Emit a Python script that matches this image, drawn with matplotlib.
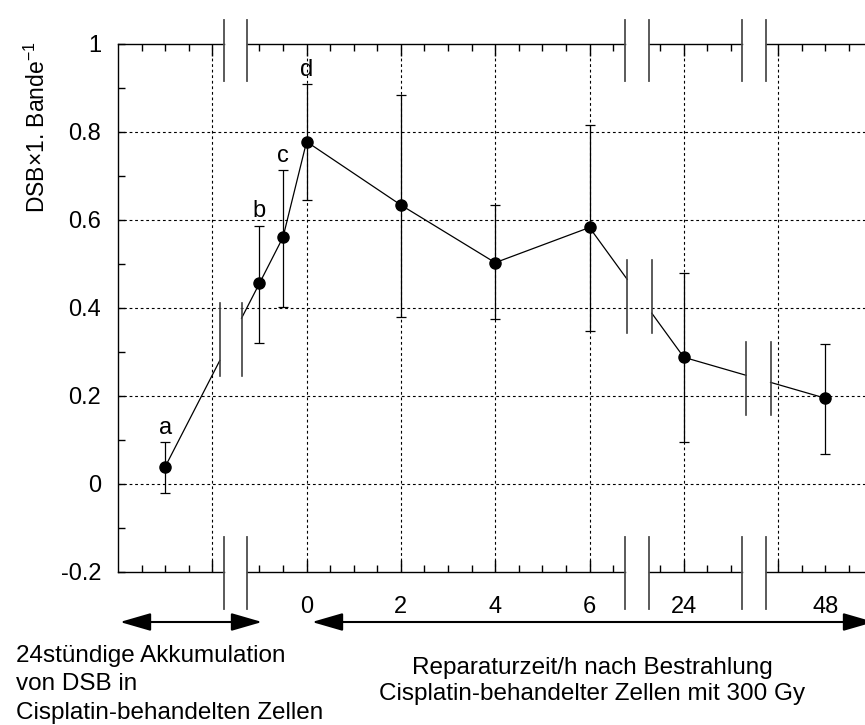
import numpy as np
import matplotlib.pyplot as plt
from matplotlib.patches import FancyArrowPatch

plt.rcParams['font.family'] = ['Liberation Sans', 'DejaVu Sans']
plt.rcParams['mathtext.default'] = 'regular'

# points in drawing order: a-d = accumulation, then repair after irradiation
point_pos = [-1.5, -0.5, -0.25, 0, 1, 2, 3, 4, 5.5]
dsb_mean = [0.039, 0.456, 0.561, 0.778, 0.634, 0.503, 0.583, 0.288, 0.195]
dsb_hi = [0.095, 0.587, 0.714, 0.909, 0.884, 0.634, 0.816, 0.479, 0.318]
dsb_lo = [-0.020, 0.321, 0.403, 0.645, 0.380, 0.374, 0.348, 0.095, 0.068]
point_labels = ['a', 'b', 'c', 'd']

# repair time axis (h) and where each label sits on the broken axis
hour_labels = ['0', '2', '4', '6', '24', '48']
hour_pos = [0, 1, 2, 3, 4, 5.5]

y_ticks = [-0.2, 0, 0.2, 0.4, 0.6, 0.8, 1.0]
y_ticklabels = ['-0.2', '0', '0.2', '0.4', '0.6', '0.8', '1']

# breaks in the axis and in the data line
spine_gaps = [(-0.876, -0.628), (3.38, 3.63), (4.62, 4.876)]
line_gaps = [(-0.92, -0.69), (3.40, 3.66), (4.66, 4.92)]

W, H = 865, 725
fig = plt.figure(figsize=(W / 100, H / 100), dpi=100)
ax = fig.add_axes([118 / W, (H - 572) / H, (W - 118) / W, 528 / H])
x_right = -2 + 747 / 94.3
ax.set_xlim(-2, x_right)
ax.set_ylim(-0.2, 1.0)

for s in ['top', 'bottom', 'right']:
    ax.spines[s].set_visible(False)
ax.spines['left'].set_linewidth(1.0)

# top and bottom axis lines with gaps
edges = [-2] + [v for g in spine_gaps for v in g] + [x_right]
for x0, x1 in zip(edges[::2], edges[1::2]):
    for yy in (1.0, -0.2):
        ax.plot([x0, x1], [yy, yy], color='k', lw=1.0, clip_on=False, zorder=5)
for g in spine_gaps:
    for gx in g:
        ax.plot([gx, gx], [1.0545, 0.916], color='0.3', lw=1.3, clip_on=False, zorder=5)
        ax.plot([gx, gx], [-0.1205, -0.284], color='0.3', lw=1.3, clip_on=False, zorder=5)

# grid
dash = (0, (2.5, 2.5))
for gx in range(-1, 6):
    ax.axvline(gx, color='k', lw=0.8, ls=dash, zorder=1)
for gy in [0, 0.2, 0.4, 0.6, 0.8]:
    ax.axhline(gy, color='k', lw=0.8, ls=dash, zorder=1)

# x ticks
major = list(range(-1, 6))
major_lab = [hour_labels[hour_pos.index(m)] if m in hour_pos else '' for m in major]
ax.set_xticks(major, major_lab)
minor = [q for q in np.arange(-1.75, 5.9, 0.25)
         if q % 1 != 0 and not any(g[0] < q < g[1] for g in spine_gaps)]
minor_lab = [hour_labels[hour_pos.index(q)] if q in hour_pos else '' for q in minor]
ax.set_xticks(minor, minor_lab, minor=True)
ax.tick_params(axis='x', which='both', direction='in', top=True, bottom=True,
               labelsize=17, pad=17, width=1.0)
ax.tick_params(axis='x', which='major', length=8.5)
ax.tick_params(axis='x', which='minor', length=4.7)

# y ticks
ax.set_yticks(y_ticks, y_ticklabels)
ax.set_yticks(np.arange(-0.1, 1.0, 0.2), minor=True)
ax.tick_params(axis='y', which='both', direction='in', left=True, right=False,
               length=5, width=1.0, labelsize=17, pad=12)

# data line, broken at the gaps
xs = np.array(point_pos)
ys = np.array(dsb_mean)
for i in range(len(xs) - 1):
    x0, x1 = xs[i], xs[i + 1]
    cuts = [g for g in line_gaps if x0 < g[0] and g[1] < x1]
    if cuts:
        g0, g1 = cuts[0]
        ax.plot([x0, g0], [ys[i], np.interp(g0, xs, ys)], color='k', lw=0.9, zorder=2)
        ax.plot([g1, x1], [np.interp(g1, xs, ys), ys[i + 1]], color='k', lw=0.9, zorder=2)
    else:
        ax.plot([x0, x1], [ys[i], ys[i + 1]], color='k', lw=0.9, zorder=2)
for g0, g1 in line_gaps:
    yc = np.interp((g0 + g1) / 2, xs, ys)
    for gx in (g0, g1):
        ax.plot([gx, gx], [yc - 0.083, yc + 0.083], color='0.25', lw=1.2, zorder=2)

yerr = [ys - np.array(dsb_lo), np.array(dsb_hi) - ys]
ax.errorbar(xs, ys, yerr=yerr, fmt='none', ecolor='k', elinewidth=0.9,
            capsize=3.3, capthick=0.9, zorder=3)
ax.plot(xs, ys, 'o', color='k', ms=8, zorder=4)

for lbl, x, top in zip(point_labels, point_pos, dsb_hi):
    ax.annotate(lbl, (x, top), xytext=(0, 6), textcoords='offset points',
                ha='center', va='baseline', fontsize=17)

fig.text(37 / W, 1 - 127 / H, 'DSB×1. Bande$^{-1}$', rotation=90,
         ha='center', va='center', fontsize=16.5)

# arrows below the axis
for (xa, xb) in [(120, 262), (312, 874)]:
    arr = FancyArrowPatch((xa / W, 1 - 622 / H), (xb / W, 1 - 622 / H),
                          transform=fig.transFigure, arrowstyle='<|-|>,head_length=19,head_width=5.5',
                          mutation_scale=1, lw=1.5, color='k', shrinkA=0, shrinkB=0)
    fig.add_artist(arr)

left_lines = ['24stündige Akkumulation', 'von DSB in', 'Cisplatin-behandelten Zellen']
for txt, yb in zip(left_lines, [662, 690.5, 719]):
    fig.text(16 / W, 1 - yb / H, txt, ha='left', va='baseline', fontsize=17.5)
right_lines = ['Reparaturzeit/h nach Bestrahlung', 'Cisplatin-behandelter Zellen mit 300 Gy']
for txt, yb in zip(right_lines, [674, 700]):
    fig.text(592 / W, 1 - yb / H, txt, ha='center', va='baseline', fontsize=17.5)

fig.savefig('out.png', dpi=100)
